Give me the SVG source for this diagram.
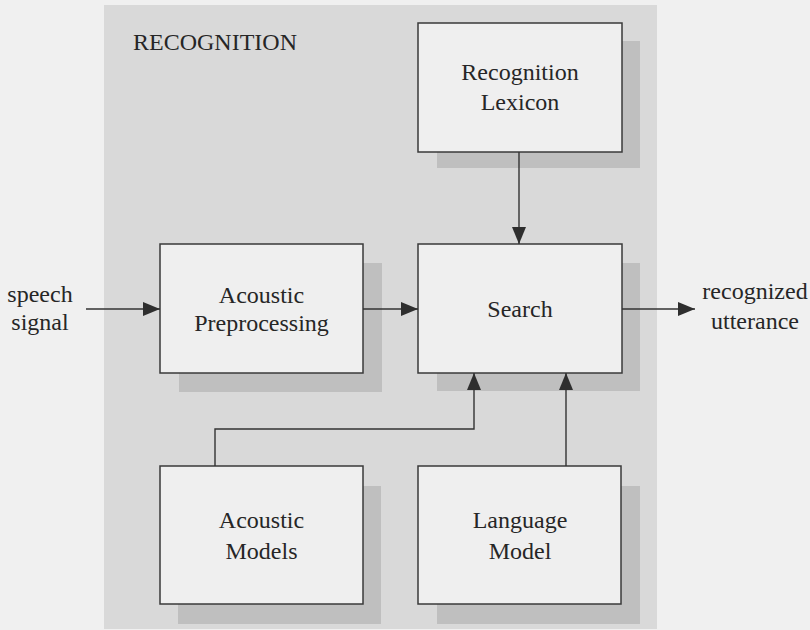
<svg xmlns="http://www.w3.org/2000/svg" width="810" height="630" viewBox="0 0 810 630">
<style>
  .panel{fill:#d9d9d9}
  .shadow{fill:#bfbfbf}
  .box{fill:#efefef;stroke:#3a3a3a;stroke-width:1.5}
  .t{font-family:"Liberation Serif",Tinos,"Times New Roman","DejaVu Serif",serif;font-size:24px;fill:#262626;text-anchor:middle}
  .title{font-family:"Liberation Serif",Tinos,"Times New Roman","DejaVu Serif",serif;font-size:24px;fill:#262626}
  .c{fill:none;stroke:#333;stroke-width:1.4}
</style>
<defs>
  <marker id="ah" markerUnits="userSpaceOnUse" markerWidth="18" markerHeight="14" refX="17" refY="7" orient="auto">
    <path d="M0,0 L17,7 L0,14 Z" fill="#2e2e2e"/>
  </marker>
</defs>
<rect x="0" y="0" width="810" height="630" fill="#f0f0f0"/>
<g id="panel">
  <rect class="panel" x="104" y="5" width="553" height="624"/>
  <text class="title" x="133" y="50">RECOGNITION</text>
</g>
<g id="lexicon">
  <rect class="shadow" x="437" y="41" width="203" height="127"/>
  <rect class="box" x="418" y="23" width="204" height="129"/>
  <text class="t" x="520" y="80">Recognition</text>
  <text class="t" x="520" y="110">Lexicon</text>
</g>
<g id="preproc">
  <rect class="shadow" x="179" y="263" width="203" height="129"/>
  <rect class="box" x="160" y="244" width="203" height="129"/>
  <text class="t" x="261.5" y="303">Acoustic</text>
  <text class="t" x="261.5" y="331">Preprocessing</text>
</g>
<g id="search">
  <rect class="shadow" x="437" y="263" width="203" height="128"/>
  <rect class="box" x="418" y="244" width="204" height="129"/>
  <text class="t" x="520" y="317">Search</text>
</g>
<g id="acmodels">
  <rect class="shadow" x="178" y="486" width="203" height="138"/>
  <rect class="box" x="160" y="466" width="203" height="138"/>
  <text class="t" x="261.5" y="528">Acoustic</text>
  <text class="t" x="261.5" y="559">Models</text>
</g>
<g id="langmodel">
  <rect class="shadow" x="437" y="486" width="203" height="138"/>
  <rect class="box" x="418" y="466" width="203" height="138"/>
  <text class="t" x="520" y="528">Language</text>
  <text class="t" x="520" y="559">Model</text>
</g>
<g id="speech">
  <text class="t" x="40" y="302">speech</text>
  <text class="t" x="40" y="330">signal</text>
</g>
<g id="output">
  <text class="t" x="755" y="299">recognized</text>
  <text class="t" x="755" y="329">utterance</text>
</g>
<g id="connectors">
  <path class="c" d="M86,309 H160" marker-end="url(#ah)"/>
  <path class="c" d="M363,309 H418" marker-end="url(#ah)"/>
  <path class="c" d="M519,152 V244" marker-end="url(#ah)"/>
  <path class="c" d="M622,309 H695" marker-end="url(#ah)"/>
  <path class="c" d="M215,466 V429 H474 V373" marker-end="url(#ah)"/>
  <path class="c" d="M566,466 V373" marker-end="url(#ah)"/>
</g>
</svg>
